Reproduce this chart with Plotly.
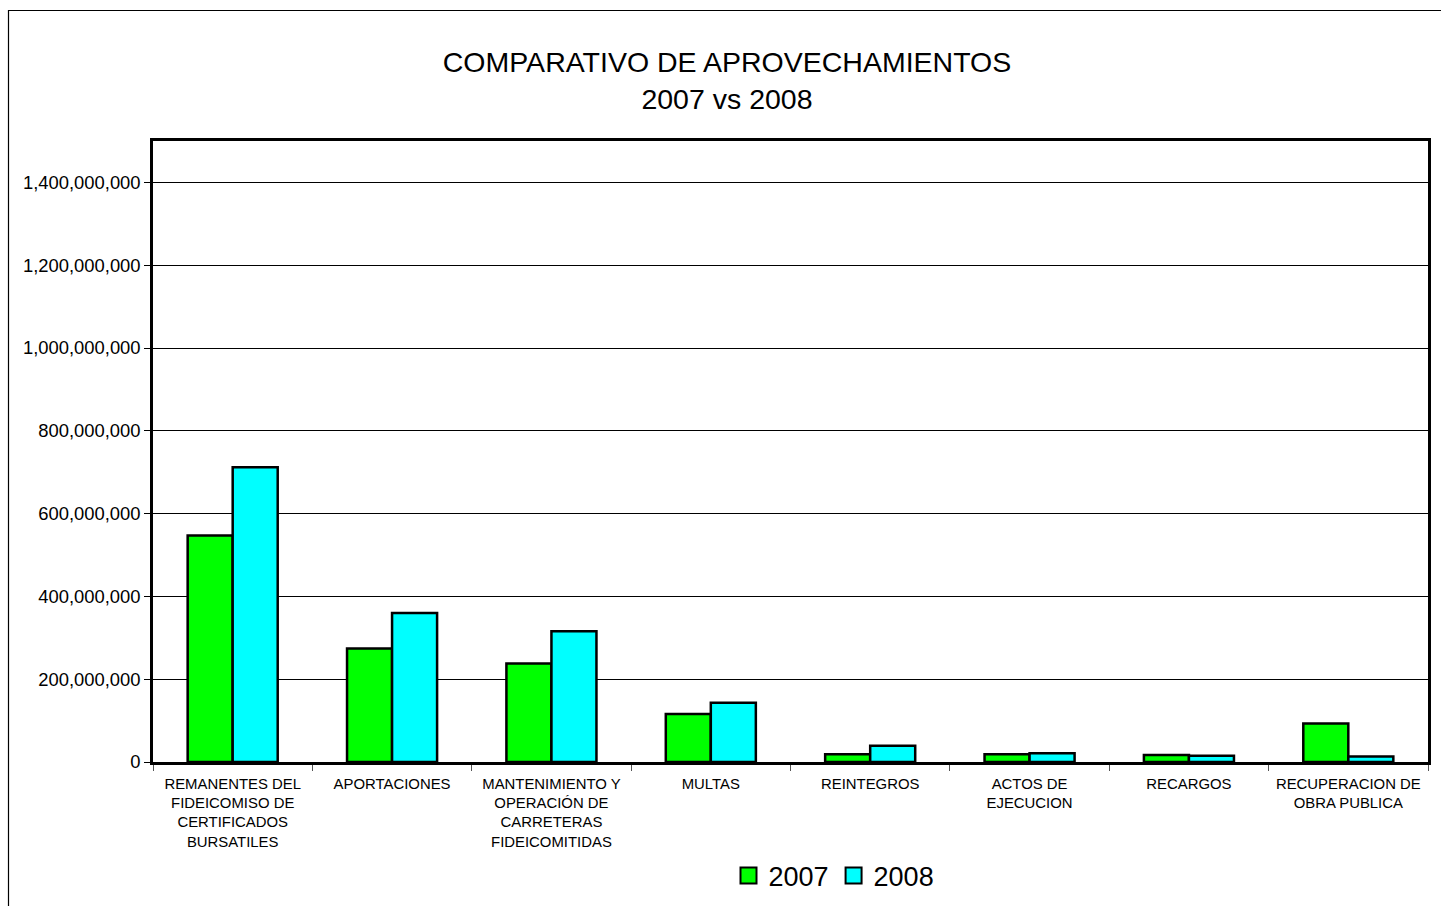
import plotly.graph_objects as go

CATEGORIES = [
    "REMANENTES DEL<br>FIDEICOMISO DE<br>CERTIFICADOS<br>BURSATILES",
    "APORTACIONES",
    "MANTENIMIENTO Y<br>OPERACIÓN DE<br>CARRETERAS<br>FIDEICOMITIDAS",
    "MULTAS",
    "REINTEGROS",
    "ACTOS DE<br>EJECUCION",
    "RECARGOS",
    "RECUPERACION DE<br>OBRA PUBLICA",
]
VALUES_2007 = [547e6, 274e6, 238e6, 116e6, 19e6, 19e6, 17e6, 93e6]
VALUES_2008 = [712e6, 360e6, 316e6, 143e6, 39e6, 21e6, 15e6, 13e6]
Y_TICKS = [0, 200e6, 400e6, 600e6, 800e6, 1000e6, 1200e6, 1400e6]
SERIES = [("2007", VALUES_2007, "#00ff00"), ("2008", VALUES_2008, "#00ffff")]

W, H = 1441, 906
L, R, T, B = 153, 1428, 141, 762  # plot area in pixels
PW, PH = R - L, B - T
FONT = "Liberation Sans, Arial, sans-serif"

fig = go.Figure()
for name, vals, color in SERIES:
    fig.add_trace(go.Bar(x=CATEGORIES, y=vals, name=name, showlegend=False,
                         marker=dict(color=color, line=dict(color="#000", width=2.5))))
# legend entries with bigger square swatches than the bar default
for name, vals, color in SERIES:
    fig.add_trace(go.Scatter(x=[None], y=[None], mode="markers", name=name,
                             marker=dict(symbol="square", size=16, color=color,
                                         line=dict(color="#000", width=2))))

# outer chart border (left/top visible, runs off the picture right/bottom)
fig.add_shape(type="rect", xref="paper", yref="paper",
              x0=(8.5 - L) / PW, x1=(1446 - L) / PW,
              y0=(B - 912) / PH, y1=(B - 10.5) / PH,
              line=dict(color="#000", width=1.2), layer="below")

fig.update_layout(
    width=W, height=H, autosize=False,
    plot_bgcolor="white", paper_bgcolor="white",
    margin=dict(l=L, r=W - R, t=T, b=H - B, pad=0, autoexpand=False),
    font=dict(family=FONT, color="#000"),
    title=dict(text="COMPARATIVO DE APROVECHAMIENTOS<br>2007 vs 2008",
               x=727 / W, xanchor="center", y=1 - 72 / H, yanchor="middle",
               font=dict(size=28.5, family=FONT, color="#000")),
    barmode="group", bargap=0.435, bargroupgap=0,
    legend=dict(orientation="h", x=(834 - L) / PW, xanchor="center",
                y=(B - 876) / PH, yanchor="middle",
                font=dict(size=27, family=FONT), itemwidth=30,
                tracegroupgap=0, traceorder="normal"),
    showlegend=True,
)
fig.update_xaxes(showline=True, linecolor="#000", linewidth=2.5, mirror=True,
                 ticks="outside", tickson="boundaries", ticklen=6,
                 ticklabelstandoff=6,
                 tickcolor="#555", tickfont=dict(size=14.9, family=FONT),
                 showgrid=False)
fig.update_yaxes(range=[0, 1.5e9], tickvals=Y_TICKS, tickformat=",.0f",
                 showline=True, linecolor="#000", linewidth=2.5, mirror=True,
                 ticks="outside", ticklen=6, tickcolor="#000",
                 showgrid=True, gridcolor="#000", gridwidth=1, zeroline=False,
                 tickfont=dict(size=18.4, family=FONT))

fig.write_html("out.html", config={"displayModeBar": False},
               post_script="document.body.style.margin='0';")
